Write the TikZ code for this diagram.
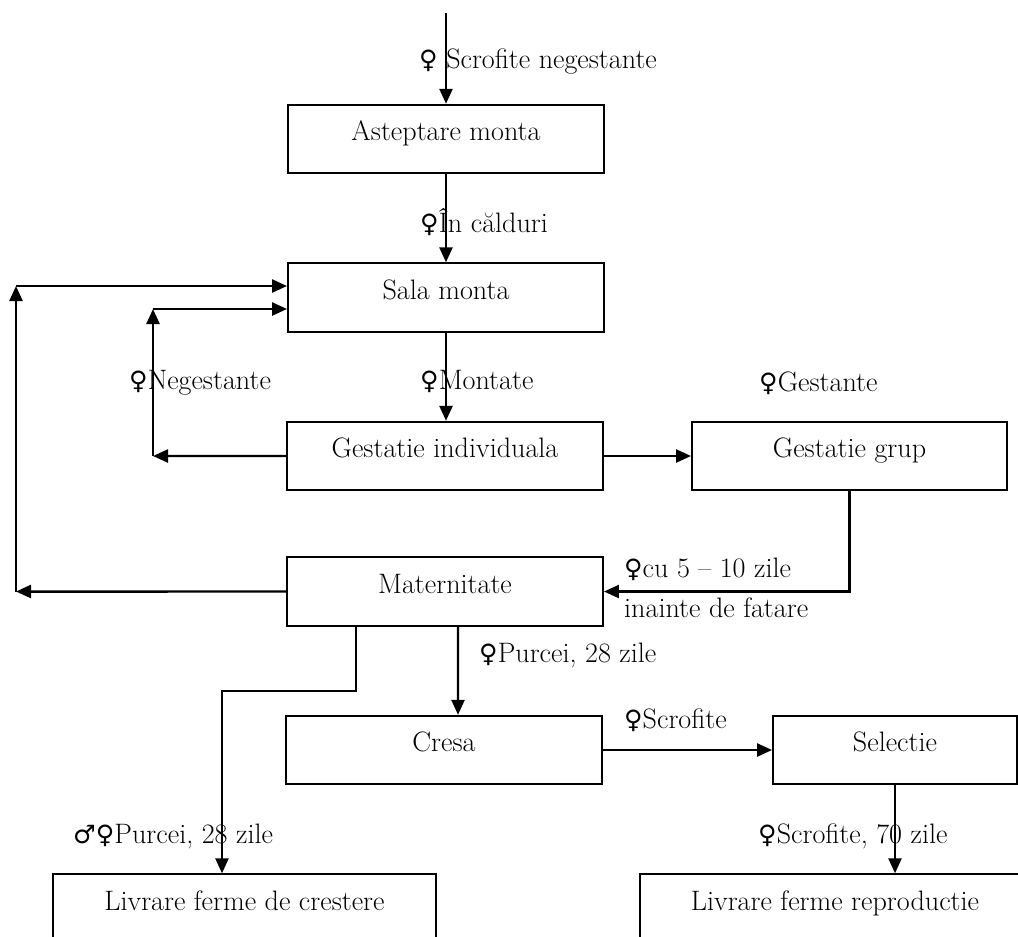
\documentclass[tikz,border=0pt]{standalone}
\usepackage{fontspec}
\usepackage{tikz}
\usetikzlibrary{positioning}
\usetikzlibrary{arrows.meta}
\newfontfamily\signfont{DejaVu Sans}[Scale=0.9]
\newcommand{\fem}{{\signfont ♀}}
\newcommand{\masc}{{\signfont ♂}}
\tikzstyle{stage} = [rectangle, minimum width=6.32cm, minimum height=1.37cm, text height=0.4cm, text depth=0.34cm, text centered, draw=black, line width=1.1pt]
\tikzstyle{flowlabel} = [inner sep=0pt, align=left]
\tikzstyle{arrow} = [line width=1.4pt,->,>={Triangle[length=0.3cm,width=0.26cm]}]

\begin{document}
\begin{tikzpicture}[node distance=3.17cm, font=\fontsize{16}{19}\selectfont]
        \useasboundingbox (0,0) rectangle (20.36,-18.72);
        \clip (0,0) rectangle (20.36,-18.72);
        \coordinate (entry) at (8.92,-0.25);
        \node (asteptare_monta) [stage] at (8.92,-2.78) {Asteptare monta};
        \node (sala_monta) [stage, below of=asteptare_monta] {Sala monta};
        \node (gestatie_ind) [stage, below of=sala_monta, xshift=-0.02cm] {Gestatie individuala};
        \node (gestatie_grup) [stage, right of=gestatie_ind, minimum width=6.3cm, xshift=4.92cm] {Gestatie grup};
        \node (maternitate) [stage, below of=gestatie_ind, yshift=0.46cm] {Maternitate};
        \node (cresa) [stage, below of=maternitate, xshift=-0.02cm] {Cresa};
        \node (selectie) [stage, right of=cresa, minimum width=4.88cm, xshift=5.85cm] {Selectie};
        \node (livrare_crestere) [stage, below of=cresa, minimum width=7.66cm, xshift=-3.99cm] {Livrare ferme de crestere};
        \node (livrare_reproductie) [stage, below of=selectie, minimum width=7.8cm, xshift=-1.2cm] {Livrare ferme reproductie};
        \coordinate (neg_low) at (3.06,-9.12);
        \coordinate (neg_high) at (3.06,-6.18);
        \coordinate (ret_low) at (0.32,-11.83);
        \coordinate (ret_high) at (0.32,-5.72);

        \draw [arrow] (entry) -- node[flowlabel, anchor=west, xshift=-0.56cm, yshift=-0.06cm] {\fem{} Scrofite negestante} (asteptare_monta.north);
        \draw [arrow] (asteptare_monta.south) -- node[flowlabel, anchor=west, xshift=-0.54cm, yshift=-0.08cm] {\fem În călduri} (sala_monta.north);
        \draw [arrow] (sala_monta.south) -- node[flowlabel, anchor=west, xshift=-0.54cm, yshift=-0.1cm] {\fem Montate} (sala_monta.south |- gestatie_ind.north);
        \draw [arrow] (gestatie_ind.west) -- (neg_low);
        \draw [arrow] (neg_low) -- node[flowlabel, anchor=west, xshift=-0.5cm] {\fem Negestante} (neg_high);
        \draw [arrow] (neg_high) -- (sala_monta.west |- neg_high);
        \draw [arrow] (gestatie_ind.east) -- node[flowlabel, anchor=west, xshift=2.21cm, yshift=1.46cm] {\fem Gestante} (gestatie_grup.west);
        \draw [arrow] (gestatie_grup.south) |- node[flowlabel, pos=1, anchor=west, xshift=0.38cm, yshift=0.07cm] {\fem cu 5 – 10 zile\\[3.7pt]inainte de fatare} (maternitate.east);
        \draw [arrow] (maternitate.west) -- (ret_low);
        \draw [arrow] (ret_low) -- (ret_high);
        \draw [arrow] (ret_high) -- (sala_monta.west |- ret_high);
        \draw [arrow] ([xshift=0.26cm]maternitate.south) -- node[flowlabel, anchor=west, xshift=0.4cm, yshift=0.31cm] {\fem Purcei, 28 zile} ([xshift=0.28cm]cresa.north);
        \draw [arrow] ([xshift=-1.78cm]maternitate.south) -- ++(0,-1.28) -| node[flowlabel, pos=0.9, anchor=west, xshift=-3cm] {\masc\fem Purcei, 28 zile} ([xshift=-0.45cm]livrare_crestere.north);
        \draw [arrow] (cresa.east) -- node[flowlabel, pos=0, anchor=west, xshift=0.4cm, yshift=0.59cm] {\fem Scrofite} (selectie.west);
        \draw [arrow] (selectie.south) -- node[flowlabel, anchor=west, xshift=-2.76cm, yshift=-0.14cm] {\fem Scrofite, 70 zile} (selectie.south |- livrare_reproductie.north);
    \end{tikzpicture}
\end{document}
